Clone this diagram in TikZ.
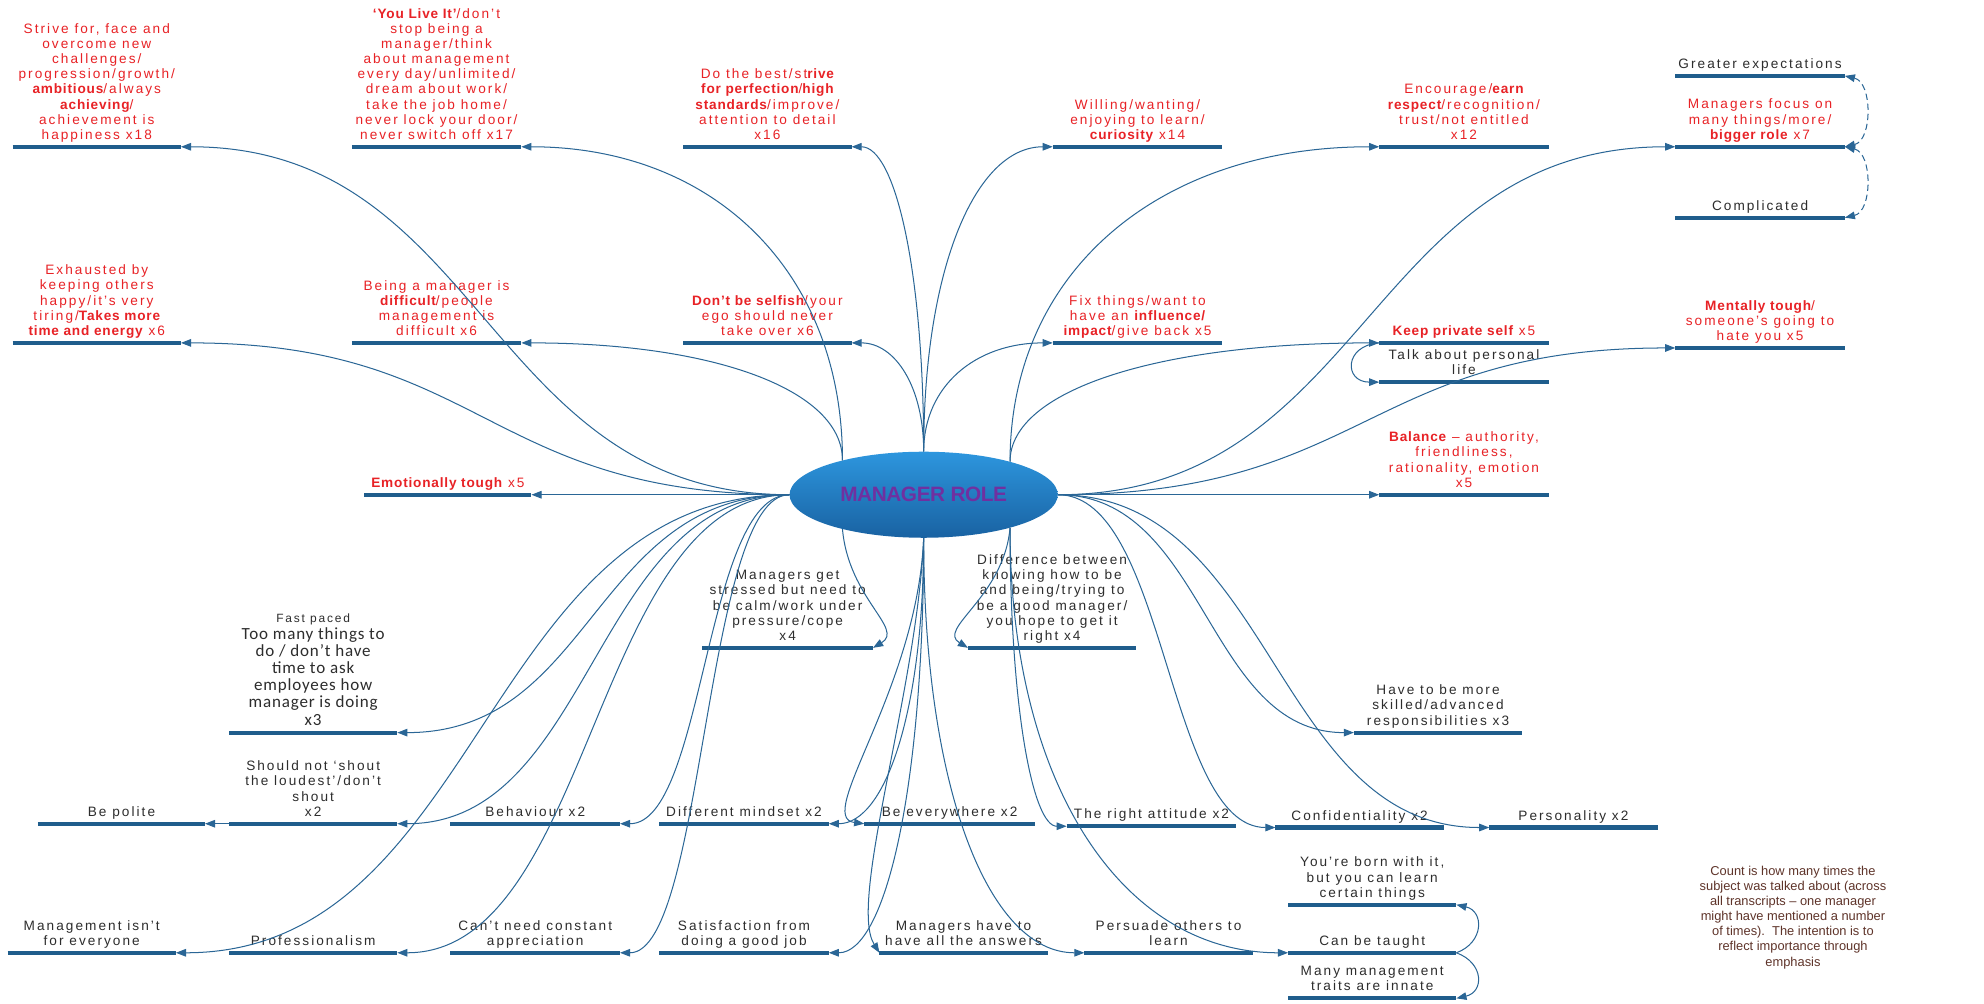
\documentclass[tikz,border=0pt]{standalone}
\usepackage{fontspec}
\setmainfont{Liberation Sans}
\newfontfamily\mmfont[LetterSpace=15]{Liberation Sans}
\newfontfamily\mmbold[LetterSpace=6]{Liberation Sans}
\newfontfamily\mmcorefont[LetterSpace=-2]{Liberation Sans}
\newfontfamily\cbfont[LetterSpace=5]{Carlito}
\usetikzlibrary{arrows.meta,shapes.geometric,calc}

\definecolor{mmred}{RGB}{232,34,38}
\definecolor{mmdark}{RGB}{45,45,45}
\definecolor{mmblue}{RGB}{31,93,140}
\definecolor{mmwire}{RGB}{42,102,150}
\definecolor{mmpurple}{RGB}{112,48,160}
\definecolor{mmnote}{RGB}{95,52,42}
\definecolor{ellTop}{RGB}{45,150,222}
\definecolor{ellBot}{RGB}{25,98,162}

\newcommand\bd[1]{{\mmbold\bfseries #1}}
\newcommand\lbfont{\mmfont\fontsize{10.8}{12}\selectfont}

% a leaf: text centred above a thick bar; the bar ends are (name-l) and (name-r)
\newcommand\leaf[6][]{%
  \coordinate (#2-l) at (#3,#5);
  \coordinate (#2-r) at (#4,#5);
  \draw[bar] (#2-l) -- (#2-r);
  \node[lbl,#1] (#2) at ({(#3+#4)/2},{#5-3.5}) {#6};
}
% S-shaped connector, horizontal at both ends
\newcommand\scurve[3][]{\draw[wire,#1] (#2) .. controls ($(#2)!0.5!(#2 -| #3)$) and ($(#3)!0.5!(#3 -| #2)$) .. (#3);}
% one-bend connector, vertical at the start, horizontal at the end
\newcommand\bcurve[3][]{\draw[wire,#1] (#2) .. controls ($(#2)!0.6!(#2 |- #3)$) and ($(#3)!0.6!(#2 |- #3)$) .. (#3);}

\begin{document}
\begin{tikzpicture}[x=1bp,y=-1bp,
  bar/.style={mmblue,line width=3.3bp},
  wire/.style={mmwire,line width=0.8bp,-{Triangle[length=8bp,width=6bp]}},
  dw/.style={wire,dash pattern=on 5bp off 3bp,{Triangle[length=8bp,width=6bp]}-{Triangle[length=8bp,width=6bp]}},
  lbl/.style={anchor=south,inner sep=0pt,align=center,text=mmred,font=\lbfont,execute at end node=\vphantom{g}},
  dk/.style={text=mmdark},
  note/.style={align=center,inner sep=0pt,text=mmnote,font=\fontsize{10.2}{12}\selectfont}]

\fill[white] (0,0) rectangle (1568,793);
\useasboundingbox (0,0) rectangle (1568,793);

% ---- top row ----
\leaf{strive}{10}{143}{116}{Strive for, face and\\overcome new\\challenges/\\progression/growth/\\\bd{ambitious}/always\\\bd{achieving}/\\achievement is\\happiness x18}
\leaf{you}{278}{412}{116}{\bd{‘You Live It’}/don’t\\stop being a\\manager/think\\about management\\every day/unlimited/\\dream about work/\\take the job home/\\never lock your door/\\never switch off x17}
\leaf{best}{540}{673}{116}{Do the best/st\bd{rive}\\\bd{for perfection}/\bd{high}\\\bd{standards}/improve/\\attention to detail\\x16}
\leaf{will}{832}{966}{116}{Willing/wanting/\\enjoying to learn/\\\bd{curiosity} x14}
\leaf{enc}{1090}{1224}{116}{Encourage/\bd{earn}\\\bd{respect}/recognition/\\trust/not entitled\\x12}
\leaf{focus}{1324}{1458}{116}{Managers focus on\\many things/more/\\\bd{bigger role} x7}
\leaf[dk]{greater}{1324}{1458}{60}{Greater expectations}
\leaf[dk]{compl}{1324}{1458}{172}{Complicated}

% ---- second row ----
\leaf{exh}{10}{143}{271}{Exhausted by\\keeping others\\happy/it’s very\\tiring/\bd{Takes more}\\\bd{time and energy} x6}
\leaf{being}{278}{412}{271}{Being a manager is\\\bd{difficult}/people\\management is\\difficult x6}
\leaf{selfish}{540}{673}{271}{\bd{Don’t be selfish}/your\\ego should never\\take over x6}
\leaf{fix}{832}{966}{271}{Fix things/want to\\have an \bd{influence/}\\\bd{impact}/give back x5}
\leaf{keep}{1090}{1224}{271}{\bd{Keep private self} x5}
\leaf[dk]{talk}{1090}{1224}{302}{Talk about personal\\life}
\leaf{tough}{1324}{1458}{275}{\bd{Mentally tough}/\\someone’s going to\\hate you x5}

% ---- middle ----
\leaf{emo}{288}{420}{391}{\bd{Emotionally tough} x5}
\leaf{bal}{1090}{1224}{391}{\bd{Balance} – authority,\\friendliness,\\rationality, emotion\\x5}
\node[ellipse,minimum width=212bp,minimum height=68bp,inner sep=0pt,draw=none,
  top color=ellTop,bottom color=ellBot,text=mmpurple,
  font=\mmcorefont\bfseries\fontsize{16.5}{18}\selectfont] (core) at (730,391) {MANAGER ROLE};

% ---- lower part ----
\leaf[dk]{stress}{555}{690}{512}{Managers get\\stressed but need to\\be calm/work under\\pressure/cope\\x4}
\leaf[dk]{diff}{765}{898}{512}{Difference between\\knowing how to be\\and being/trying to\\be a good manager/\\you hope to get it\\right x4}
\leaf[dk,font=\cbfont\fontsize{13.5}{13.6}\selectfont]{fast}{181}{314}{579}{{\mmfont\fontsize{9.5}{13.6}\selectfont Fast paced}\\Too many things to\\do / don’t have\\time to ask\\employees how\\manager is doing\\x3}
\leaf[dk]{skill}{1070}{1203}{579}{Have to be more\\skilled/advanced\\responsibilities x3}

\leaf[dk]{polite}{30}{162}{651}{Be polite}
\leaf[dk]{shout}{181}{314}{651}{Should not ‘shout\\the loudest’/don’t\\shout\\x2}
\leaf[dk]{beh}{356}{490}{651}{Behaviour x2}
\leaf[dk]{mind}{521}{655}{651}{Different mindset x2}
\leaf[dk]{every}{683}{818}{651}{Be everywhere x2}
\leaf[dk]{att}{843}{977}{653}{The right attitude x2}
\leaf[dk]{conf}{1008}{1141}{654}{Confidentiality x2}
\leaf[dk]{pers}{1177}{1310}{654}{Personality x2}

\leaf[dk]{mgmt}{6}{139}{753}{Management isn’t\\for everyone}
\leaf[dk]{prof}{181}{314}{753}{Professionalism}
\leaf[dk]{cant}{356}{490}{753}{Can’t need constant\\appreciation}
\leaf[dk]{satis}{521}{655}{753}{Satisfaction from\\doing a good job}
\leaf[dk]{answ}{695}{828}{753}{Managers have to\\have all the answers}
\leaf[dk]{persu}{857}{990}{753}{Persuade others to\\learn}
\leaf[dk]{born}{1018}{1151}{715}{You’re born with it,\\but you can learn\\certain things}
\leaf[dk]{taught}{1018}{1151}{753}{Can be taught}
\leaf[dk]{innate}{1018}{1151}{789}{Many management\\traits are innate}

\node[note] (note) at (1417,725) {Count is how many times the\\subject was talked about (across\\all transcripts – one manager\\might have mentioned a number\\of times).\ \ The intention is to\\reflect importance through\\emphasis};

% ---- connectors from the left side of the ellipse ----
\scurve{core.west}{strive-r}
\scurve{core.west}{exh-r}
\draw[wire] (core.west) -- (emo-r);
\scurve{core.west}{fast-r}
\scurve{core.west}{shout-r}
\scurve{core.west}{beh-r}
\scurve{core.west}{mgmt-r}
\scurve{core.west}{prof-r}
\scurve{core.west}{cant-r}

% ---- connectors from the top ----
\bcurve{core.157}{you-r}
\bcurve{core.157}{being-r}
\bcurve{core.north}{best-r}
\bcurve{core.north}{selfish-r}
\bcurve{core.north}{will-l}
\bcurve{core.north}{fix-l}
\bcurve{core.21}{enc-l}
\bcurve{core.21}{keep-l}

% ---- connectors from the right side ----
\scurve{core.east}{focus-l}
\scurve{core.east}{tough-l}
\draw[wire] (core.east) -- (bal-l);
\scurve{core.east}{skill-l}
\scurve{core.east}{conf-l}
\scurve{core.east}{pers-l}

% ---- connectors from the bottom ----
\draw[wire] (core.203) .. controls +(5,55) and +(25,-15) .. (stress-r);
\draw[wire] (core.339) .. controls +(-5,55) and +(-25,-15) .. (diff-l);
\bcurve{core.south}{mind-r}
\draw[wire] (core.south) .. controls +(-5,120) and +(-40,-5) .. (every-l);
\bcurve{core.south}{satis-r}
\draw[wire] (core.south) .. controls +(-5,120) and +(-25,-40) .. (answ-l);
\bcurve{core.south}{persu-l}
\bcurve{core.339}{att-l}
\bcurve{core.339}{taught-l}

% ---- links between leaves ----
\draw[wire] (shout-l) -- (polite-r);
\draw[wire] (keep-l) .. controls +(-28,2) and +(-28,0) .. (talk-l);
\draw[dw] (greater-r) .. controls +(22,5) and +(22,-5) .. (focus-r);
\draw[dw] (focus-r) .. controls +(22,5) and +(22,-5) .. (compl-r);
\draw[wire] (taught-r) .. controls +(22,-8) and +(22,5) .. (born-r);
\draw[wire] (taught-r) .. controls +(22,8) and +(22,-5) .. (innate-r);
\end{tikzpicture}
\end{document}
